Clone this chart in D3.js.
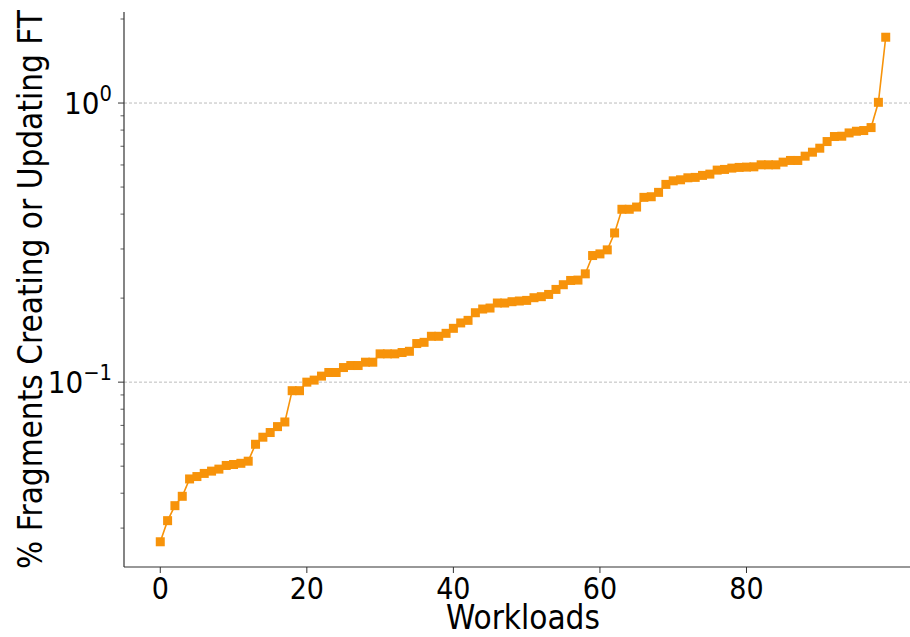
<!DOCTYPE html>
<html>
<head>
<meta charset="utf-8">
<script src="https://cdn.jsdelivr.net/npm/d3@7"></script>
<style>
  body { margin: 0; background: #fff; }
  svg { display: block; font-family: "DejaVu Sans Condensed", "DejaVu Sans", sans-serif; font-stretch: condensed; }
</style>
</head>
<body>
<svg id="chart" width="910" height="637"></svg>
<script>
// ---- data ----
const workloads = d3.range(0, 100);
const fractions = [
  0.0268, 0.0319, 0.0361, 0.0390, 0.0450, 0.0459, 0.0471, 0.0480, 0.0488, 0.0503,
  0.0507, 0.0512, 0.0521, 0.0599, 0.0635, 0.0660, 0.0693, 0.0720, 0.0932, 0.0932,
  0.1000, 0.1017, 0.1051, 0.1083, 0.1083, 0.1128, 0.1147, 0.1147, 0.1179, 0.1179,
  0.1263, 0.1263, 0.1263, 0.1277, 0.1290, 0.1375, 0.1389, 0.1460, 0.1460, 0.1496,
  0.1559, 0.1630, 0.1665, 0.1773, 0.1828, 0.1843, 0.1921, 0.1921, 0.1942, 0.1953,
  0.1963, 0.2007, 0.2024, 0.2062, 0.2149, 0.2234, 0.2314, 0.2321, 0.2444, 0.2842,
  0.2881, 0.2978, 0.3424, 0.4163, 0.4163, 0.4240, 0.4593, 0.4616, 0.4786, 0.5111,
  0.5264, 0.5309, 0.5397, 0.5415, 0.5505, 0.5564, 0.5750, 0.5783, 0.5846, 0.5880,
  0.5894, 0.5908, 0.6007, 0.6007, 0.6007, 0.6141, 0.6227, 0.6227, 0.6451, 0.6667,
  0.6890, 0.7278, 0.7586, 0.7605, 0.7815, 0.7924, 0.7970, 0.8167, 1.006, 1.721
];
const xTicks = [0, 20, 40, 60, 80];
const yMajorTicks = [0.1, 1];
const yMajorExp = ["\u22121", "0"];
const xLabel = "Workloads";
const yLabel = "% Fragments Creating or Updating FT";

// ---- layout ----
const svg = d3.select("#chart");
const mLeft = 124, mRight = 922, mTop = 12, mBottom = 567;
const color = "#f7930a";
const fsTick = 30, fsLabel = 33;

const x = d3.scaleLinear().domain([-4.95, 103.95]).range([mLeft, mRight]);
const logMin = Math.log10(d3.min(fractions)), logMax = Math.log10(d3.max(fractions));
const pad = (logMax - logMin) * 0.05;
const y = d3.scaleLog().domain([Math.pow(10, logMin - pad), Math.pow(10, logMax + pad)]).range([mBottom, mTop]);

// grid lines
svg.append("g").selectAll("line").data(yMajorTicks).join("line")
  .attr("x1", mLeft).attr("x2", 910)
  .attr("y1", d => y(d)).attr("y2", d => y(d))
  .attr("stroke", "#aaaaaa").attr("stroke-width", 0.8)
  .attr("stroke-dasharray", "3,2");

// minor y ticks
const minor = [];
[0.01, 0.1, 1].forEach(dec => { for (let k = 2; k <= 9; k++) minor.push(dec * k); });
const [d0, d1] = y.domain();
svg.append("g").selectAll("line").data(minor.filter(v => v >= d0 && v <= d1)).join("line")
  .attr("x1", mLeft - 3.5).attr("x2", mLeft)
  .attr("y1", d => y(d)).attr("y2", d => y(d))
  .attr("stroke", "#333").attr("stroke-width", 0.8);

// major y ticks
svg.append("g").selectAll("line").data(yMajorTicks).join("line")
  .attr("x1", mLeft - 6).attr("x2", mLeft)
  .attr("y1", d => y(d)).attr("y2", d => y(d))
  .attr("stroke", "#333").attr("stroke-width", 1);

const yl = svg.append("g").selectAll("text").data(yMajorTicks).join("text")
  .attr("x", mLeft - 12).attr("y", d => y(d) + 11)
  .attr("text-anchor", "end")
  .attr("font-size", fsTick + 1).attr("fill", "#000");
yl.append("tspan").text("10");
yl.append("tspan").attr("font-size", (fsTick + 1) * 0.7).attr("dy", -13).text((d, i) => yMajorExp[i]);

// x ticks
svg.append("g").selectAll("line").data(xTicks).join("line")
  .attr("x1", d => x(d)).attr("x2", d => x(d))
  .attr("y1", mBottom).attr("y2", mBottom + 6)
  .attr("stroke", "#333").attr("stroke-width", 1);
svg.append("g").selectAll("text").data(xTicks).join("text")
  .attr("x", d => x(d)).attr("y", mBottom + 32)
  .attr("text-anchor", "middle").attr("font-size", fsTick).attr("fill", "#000")
  .text(d => d);

// spines
svg.append("line").attr("x1", mLeft).attr("x2", mLeft).attr("y1", mTop).attr("y2", mBottom)
  .attr("stroke", "#333").attr("stroke-width", 1.2);
svg.append("line").attr("x1", mLeft).attr("x2", 910).attr("y1", mBottom).attr("y2", mBottom)
  .attr("stroke", "#333").attr("stroke-width", 1.2);

// line + markers
const line = d3.line().x((d, i) => x(workloads[i])).y(d => y(d));
svg.append("path").datum(fractions).attr("d", line)
  .attr("fill", "none").attr("stroke", color).attr("stroke-width", 1.6);
svg.append("g").selectAll("rect").data(fractions).join("rect")
  .attr("x", (d, i) => x(workloads[i]) - 4.5).attr("y", d => y(d) - 4.5)
  .attr("width", 9).attr("height", 9)
  .attr("fill", color);

// axis labels
svg.append("text").attr("x", (mLeft + mRight) / 2).attr("y", 629)
  .attr("text-anchor", "middle").attr("font-size", fsLabel).attr("fill", "#000")
  .text(xLabel);
svg.append("text")
  .attr("transform", `translate(42, ${(mTop + mBottom) / 2}) rotate(-90)`)
  .attr("text-anchor", "middle").attr("font-size", fsLabel).attr("fill", "#000")
  .text(yLabel);
</script>
</body>
</html>
